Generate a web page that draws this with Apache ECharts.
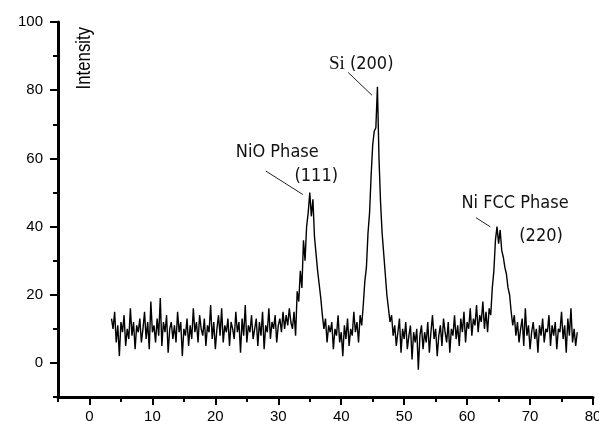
<!DOCTYPE html>
<html><head><meta charset="utf-8">
<script src="https://cdn.jsdelivr.net/npm/echarts@6/dist/echarts.min.js"></script>
<style>html,body{margin:0;padding:0;background:#fff}#c{width:599px;height:421px}</style>
</head><body><div id="c"></div>
<script>
// 2-theta positions (degrees)
const twoTheta = [
3.5,3.75,4,4.25,4.5,4.75,5,5.25,5.5,5.75,6,6.25,6.5,6.75,7,7.25,7.5,7.75,8,8.25,
8.5,8.75,9,9.25,9.5,9.75,10,10.25,10.5,10.75,11,11.25,11.5,11.75,12,12.25,12.5,12.75,13,13.25,
13.5,13.75,14,14.25,14.5,14.75,15,15.25,15.5,15.75,16,16.25,16.5,16.75,17,17.25,17.5,17.75,18,18.25,
18.5,18.75,19,19.25,19.5,19.75,20,20.25,20.5,20.75,21,21.25,21.5,21.75,22,22.25,22.5,22.75,23,23.25,
23.5,23.75,24,24.25,24.5,24.75,25,25.25,25.5,25.75,26,26.25,26.5,26.75,27,27.25,27.5,27.75,28,28.25,
28.5,28.75,29,29.25,29.5,29.75,30,30.25,30.5,30.75,31,31.25,31.5,31.75,32,32.25,32.5,32.75,33,33.25,
33.5,33.75,34,34.25,34.5,34.75,35,35.25,35.5,35.75,36,36.25,36.5,36.75,37,37.25,37.5,37.75,38,38.25,
38.5,38.75,39,39.25,39.5,39.75,40,40.25,40.5,40.75,41,41.25,41.5,41.75,42,42.25,42.5,42.75,43,43.25,
43.5,43.75,44,44.25,44.5,44.75,45,45.25,45.5,45.75,46,46.25,46.5,46.75,47,47.25,47.5,47.75,48,48.25,
48.5,48.75,49,49.25,49.5,49.75,50,50.25,50.5,50.75,51,51.25,51.5,51.75,52,52.25,52.5,52.75,53,53.25,
53.5,53.75,54,54.25,54.5,54.75,55,55.25,55.5,55.75,56,56.25,56.5,56.75,57,57.25,57.5,57.75,58,58.25,
58.5,58.75,59,59.25,59.5,59.75,60,60.25,60.5,60.75,61,61.25,61.5,61.75,62,62.25,62.5,62.75,63,63.25,
63.5,63.75,64,64.25,64.5,64.75,65,65.25,65.5,65.75,66,66.25,66.5,66.75,67,67.25,67.5,67.75,68,68.25,
68.5,68.75,69,69.25,69.5,69.75,70,70.25,70.5,70.75,71,71.25,71.5,71.75,72,72.25,72.5,72.75,73,73.25,
73.5,73.75,74,74.25,74.5,74.75,75,75.25,75.5,75.75,76,76.25,76.5,76.75,77,77.25,77.5
];
// Intensity values
const intensity = [
13,10,15,6,11,2,12,9,14,5,10,7,16,8,12,4,11,9,13,6,
10,15,7,12,4,18,9,11,6,13,8,19,5,12,9,14,3,10,12,7,
11,6,15,9,12,2,10,8,13,5,11,7,16,9,12,6,14,10,8,13,
5,11,9,17,7,12,4,10,14,8,16,6,11,9,13,5,12,10,7,15,
9,12,3,13,8,17,6,11,9,14,7,10,13,5,12,8,15,4,11,9,
16,7,12,10,14,6,11,13,9,15,10,14,11,16,12,10,15,8,21,18,
27,22,36,30,40,44,50,43,48,37,32,27,23,19,14,10,13,6,11,9,
12,4,10,8,14,6,9,2,11,7,13,5,10,8,15,9,12,6,14,11,
17,24,28,38,44,55,64,68,69,81,60,47,38,32,26,20,16,12,14,8,
11,5,9,13,3,10,7,12,4,8,11,1,9,6,10,-2,8,11,4,9,
6,12,3,9,14,7,10,2,8,11,5,13,9,6,12,3,10,8,14,7,
11,5,13,9,15,6,12,10,16,8,13,11,17,9,14,12,18,10,15,9,
16,14,22,27,36,40,35,39,33,31,28,26,22,20,15,11,14,8,12,6,
10,13,5,16,8,11,4,9,12,7,10,3,11,8,13,6,10,9,14,5,
11,8,12,4,10,9,15,7,11,3,13,8,16,6,10,5,9
];
// tick labels
const xMajorTicks = [0,10,20,30,40,50,60,70,80];
const xMinorTicks = [-5,5,15,25,35,45,55,65,75];
const yMajorTicks = [0,20,40,60,80,100];
const yMinorTicks = [-10,10,30,50,70,90];
// annotations (data coordinates)
const labels = [
  {text:'NiO Phase', at:[29.84,61.8]},
  {text:'(111)', at:[36.03,54.75]},
  {text:'{s|Si} {p|(200)}', at:[43.17,87.6]},
  {text:'Ni FCC Phase', at:[67.62,46.8]},
  {text:'(220)', at:[71.75,37.2]}
];
const leaders = [
  [[28.0,56.3],[33.9,49.4]],
  [[41.1,85.2],[44.9,78.5]],
  [[61.4,42.6],[63.7,39.9]]
];
const yTitle = {text:'Intensity', at:[-0.8,89.4]};

const chart = echarts.init(document.getElementById('c'), null, {renderer:'canvas'});
const seriesData = twoTheta.map((x,i)=>[x,intensity[i]]);
const axisFont = {color:'#000', fontFamily:'Liberation Sans, Arial, sans-serif', fontSize:15};
chart.setOption({
  backgroundColor:'#fff',
  animation:false,
  grid:{left:58,right:6,top:22,bottom:24,containLabel:false,outerBoundsMode:'none'},
  xAxis:[{
    type:'value', min:-5, max:80,
    axisLine:{show:true,onZero:false,lineStyle:{color:'#000',width:3}},
    axisTick:{show:true,customValues:xMajorTicks,length:8,lineStyle:{color:'#000',width:2}},
    axisLabel:Object.assign({customValues:xMajorTicks,margin:12},axisFont),
    splitLine:{show:false}
  },{
    type:'value', min:-5, max:80, position:'bottom',
    axisLine:{show:false,onZero:false},
    axisTick:{show:true,customValues:xMinorTicks,length:5,lineStyle:{color:'#000',width:2}},
    axisLabel:{show:false}, splitLine:{show:false}
  }],
  yAxis:[{
    type:'value', min:-10, max:100,
    axisLine:{show:true,onZero:false,lineStyle:{color:'#000',width:3}},
    axisTick:{show:true,customValues:yMajorTicks,length:8,lineStyle:{color:'#000',width:2}},
    axisLabel:Object.assign({customValues:yMajorTicks,margin:15},axisFont),
    splitLine:{show:false}
  },{
    type:'value', min:-10, max:100, position:'left',
    axisLine:{show:false,onZero:false},
    axisTick:{show:true,customValues:yMinorTicks,length:5,lineStyle:{color:'#000',width:2}},
    axisLabel:{show:false}, splitLine:{show:false}
  }],
  series:[{
    type:'line', xAxisIndex:0, yAxisIndex:0, data:seriesData,
    showSymbol:false, symbol:'none', smooth:false,
    lineStyle:{color:'#000',width:1.4}
  }]
});

function px(p){ return chart.convertToPixel({xAxisIndex:0,yAxisIndex:0}, p); }
const annFont = '18px "DejaVu Sans Condensed", sans-serif';
const graphics = [];
labels.forEach(l=>{
  const p = px(l.at);
  graphics.push({type:'text', x:p[0], y:p[1], z:10, style:{
    text:l.text, font:annFont, fill:'#111', align:'center', verticalAlign:'middle',
    rich:{ s:{font:'19px "Liberation Serif", serif', fill:'#111'}, p:{font:annFont, fill:'#111'} }
  }});
});
leaders.forEach(seg=>{
  const a = px(seg[0]), b = px(seg[1]);
  graphics.push({type:'line', z:10, shape:{x1:a[0],y1:a[1],x2:b[0],y2:b[1]}, style:{stroke:'#222',lineWidth:1}});
});
const tp = px(yTitle.at);
graphics.push({type:'text', x:tp[0], y:tp[1], rotation:Math.PI/2, scaleX:0.8, z:10, style:{
  text:yTitle.text, font:'21px "Liberation Sans", Arial, sans-serif',
  fill:'#000', align:'center', verticalAlign:'middle'}});
chart.setOption({graphic:graphics});
</script>
</body></html>
